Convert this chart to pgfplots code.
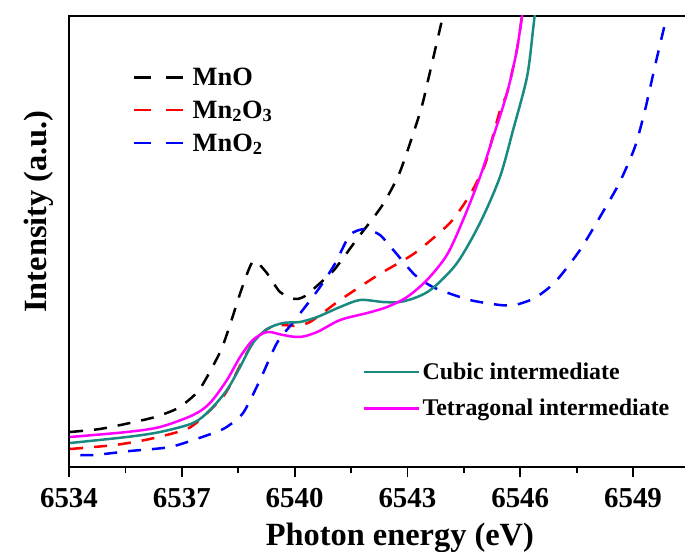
\documentclass[border=0pt]{standalone}
\usepackage{fontspec}
\setmainfont{Liberation Serif}
\usepackage{pgfplots}
\pgfplotsset{compat=1.18}

\definecolor{cubic}{RGB}{24,138,128}
\definecolor{tetra}{RGB}{255,0,255}
\definecolor{refred}{RGB}{255,0,0}
\definecolor{refblue}{RGB}{0,0,255}

% Mn K-edge XANES: reference oxides (dashed) and the two intermediates (solid)
\pgfplotstableread{
E y
6534.03 28
6534.82 31
6535.62 37
6536.29 43
6536.90 52
6537.46 70
6538.02 108
6538.28 135
6538.60 172
6538.90 199
6539.24 188
6539.61 168
6540.01 161
6540.28 164
6540.68 177
6541.05 190
6541.66 221
6542.32 254
6542.80 288
6543.34 348
6543.55 380
6543.95 445
6544.02 458
}\MnO

\pgfplotstableread{
E y
6534.03 11
6535.22 15
6536.15 21
6537.14 31
6537.62 45
6538.15 66
6538.60 98
6538.89 117
6539.27 131
6539.69 135
6539.96 134
6540.41 138
6541.21 160
6542.22 185
6543.20 207
6544.13 237
6544.66 265
6545.06 295
6545.28 325
6545.49 353
6545.65 367
6545.91 410
6546.05 445
6546.10 458
}\MnIII

\pgfplotstableread{
E y
6534.30 5
6534.69 5
6535.62 9
6536.69 13
6537.62 24
6538.15 32
6538.63 47
6539.08 80
6539.53 117
6540.01 140
6540.62 170
6541.07 196
6541.47 225
6541.87 231
6542.27 225
6542.67 208
6543.20 185
6543.73 172
6544.66 160
6545.46 155
6545.86 155
6546.39 162
6546.93 178
6547.59 210
6548.26 252
6548.65 278
6549.05 313
6549.32 350
6549.59 395
6549.86 438
}\MnIV

\pgfplotstableread{
E y
6534.03 17
6535.54 23
6536.42 28
6537.30 37
6537.75 50
6538.20 70
6538.55 93
6538.89 117
6539.27 131
6539.69 137
6540.14 138
6540.60 143
6541.21 153
6541.74 160
6542.35 158
6542.80 158
6543.26 163
6543.68 172
6544.32 197
6544.93 237
6545.46 283
6545.81 330
6546.18 383
6546.34 430
6546.42 458
}\Cubic

\pgfplotstableread{
E y
6534.03 23
6535.54 28
6536.42 33
6537.30 45
6537.75 57
6538.20 80
6538.55 103
6538.89 120
6539.27 128
6539.69 125
6540.14 123
6540.60 128
6541.21 140
6541.93 147
6542.46 153
6542.99 163
6543.52 180
6544.05 205
6544.48 240
6544.93 283
6545.28 323
6545.65 367
6545.91 410
6546.10 458
}\Tetra

\begin{document}
\begin{tikzpicture}
\pgfplotsset{
  frame/.style={
    scale only axis, width=661.8bp, height=451bp,
    xmin=6534, xmax=6551.6, ymin=-7, ymax=444,
  },
}
\begin{axis}[
  frame, name=ax,
  axis line style={line width=2bp},
  xtick={6534,6537,6540,6543,6546,6549},
  minor x tick num=1,
  ytick=\empty,
  xtick pos=bottom,
  tick align=outside,
  major tick length=10bp, minor tick length=6bp,
  every tick/.style={black, line width=1.8bp},
  /pgf/number format/assume math mode=true,
  /pgf/number format/1000 sep={},
  xticklabel style={font=\bfseries\fontsize{29}{29}\selectfont, anchor=base, inner sep=0pt, yshift=-30.5bp},
  xlabel={Photon energy (eV)},
  ylabel={Intensity (a.u.)},
  xlabel style={font=\bfseries\fontsize{32.5}{32.5}\selectfont, at={(axis description cs:0.5,-0.173)}, anchor=base, inner sep=0pt},
  ylabel style={font=\bfseries\fontsize{32.5}{32.5}\selectfont, at={(axis description cs:-0.0453,0.5665)}, anchor=center, inner sep=0pt},
  legend style={draw=none, fill=none, at={(axis description cs:0.0967,0.89)}, anchor=north west,
    font=\bfseries\fontsize{26.5}{26.5}\selectfont, row sep=10bp, inner sep=0pt,
    /tikz/every odd column/.append style={column sep=6bp}},
  legend cell align=left,
  legend image code/.code={\draw[#1, line width=2.5bp, dash pattern=on 17bp off 15bp] (0bp,0bp) -- (49bp,0bp);},
  every axis plot/.append style={line width=2.5bp},
]
\addplot[black, smooth, tension=0.4, dash pattern=on 13bp off 11bp] table[x=E,y=y] {\MnO};
\addlegendentry{MnO}
\addplot[refred, smooth, tension=0.4, dash pattern=on 13bp off 11bp] table[x=E,y=y] {\MnIII};
\addlegendentry{Mn\textsubscript{2}O\textsubscript{3}}
\addplot[refblue, smooth, tension=0.4, dash pattern=on 13bp off 11bp] table[x=E,y=y] {\MnIV};
\addlegendentry{MnO\textsubscript{2}}
\addplot[cubic, smooth, forget plot] table[x=E,y=y] {\Cubic};
\addplot[tetra, smooth, forget plot] table[x=E,y=y] {\Tetra};
\end{axis}

% legend for the two intermediates
\begin{axis}[
  frame, hide axis,
  legend style={draw=none, fill=none, at={(axis description cs:0.444,0.235)}, anchor=north west,
    font=\bfseries\fontsize{24}{24}\selectfont, row sep=14bp, inner sep=0pt},
  legend cell align=left,
  legend image code/.code={\draw[#1, line width=2.5bp] (0bp,0bp) -- (55bp,0bp);},
]
\addlegendimage{cubic}
\addlegendentry{Cubic intermediate}
\addlegendimage{tetra}
\addlegendentry{Tetragonal intermediate}
\end{axis}

\pgfresetboundingbox
\path ([shift={(-69bp,-85bp)}]ax.south west) rectangle ([shift={(616bp,467bp)}]ax.south west);
\end{tikzpicture}
\end{document}
